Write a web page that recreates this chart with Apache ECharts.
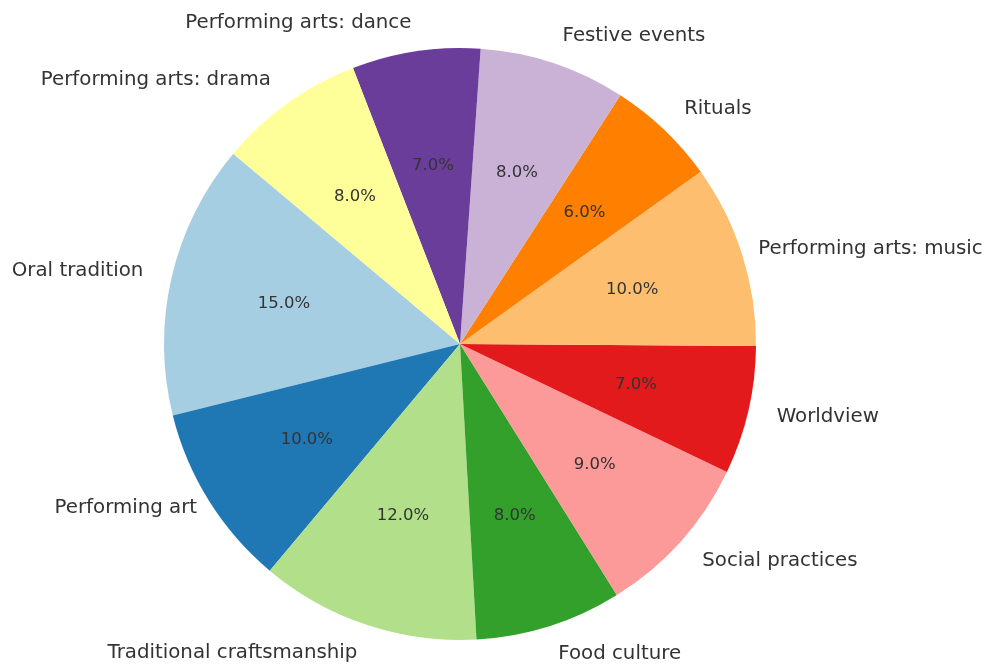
<!DOCTYPE html>
<html>
<head>
<meta charset="utf-8">
<script src="https://cdn.jsdelivr.net/npm/echarts@6/dist/echarts.min.js"></script>
<style>
  html, body { margin: 0; padding: 0; background: #ffffff; }
  #chart { width: 989px; height: 666px; }
</style>
</head>
<body>
<div id="chart"></div>
<script>
// Categories of intangible cultural heritage and their shares (%)
const categories = [
  'Oral tradition',
  'Performing art',
  'Traditional craftsmanship',
  'Food culture',
  'Social practices',
  'Worldview',
  'Performing arts: music',
  'Rituals',
  'Festive events',
  'Performing arts: dance',
  'Performing arts: drama'
];
const shares = [15, 10, 12, 8, 9, 7, 10, 6, 8, 7, 8];
// "Paired" palette
const colors = [
  '#a6cee3', '#1f78b4', '#b2df8a', '#33a02c', '#fb9a99', '#e31a1c',
  '#fdbf6f', '#ff7f00', '#cab2d6', '#6a3d9a', '#ffff99'
];

const CX = 460, CY = 344, R = 296;
const FONT = '"DejaVu Sans", sans-serif';
const NAME_GAP = 29;
// a couple of names sit a little closer to the rim
const nameGapOverride = { 'Performing arts: music': 17, 'Performing art': 14 };

const sliceData = categories.map((name, i) => {
  const item = { name: name, value: shares[i], itemStyle: { color: colors[i] } };
  if (nameGapOverride[name] !== undefined) {
    item.labelLine = { show: false, length: nameGapOverride[name], length2: 0 };
  }
  return item;
});
const pctData = categories.map((name, i) => ({
  name: name,
  value: shares[i],
  itemStyle: { color: 'rgba(0,0,0,0)' }
}));

const chart = echarts.init(document.getElementById('chart'), null, { renderer: 'canvas' });
chart.setOption({
  backgroundColor: '#ffffff',
  animation: false,
  series: [
    {
      // coloured slices with category names outside
      type: 'pie',
      center: [CX, CY],
      radius: [0, R],
      startAngle: 140,
      clockwise: false,
      avoidLabelOverlap: false,
      silent: true,
      itemStyle: { borderWidth: 0 },
      label: {
        show: true,
        position: 'outside',
        formatter: '{b}',
        color: '#333333',
        fontFamily: FONT,
        fontSize: 19.8,
        distanceToLabelLine: 0
      },
      labelLine: { show: false, length: NAME_GAP, length2: 0 },
      emphasis: { disabled: true },
      data: sliceData
    },
    {
      // percentage labels at 60% of the radius
      type: 'pie',
      center: [CX, CY],
      radius: [0, R * 1.2],
      startAngle: 140,
      clockwise: false,
      silent: true,
      avoidLabelOverlap: false,
      itemStyle: { borderWidth: 0 },
      label: {
        show: true,
        position: 'inside',
        formatter: p => p.value.toFixed(1) + '%',
        color: '#333333',
        fontFamily: FONT,
        fontSize: 16.5
      },
      labelLine: { show: false },
      emphasis: { disabled: true },
      data: pctData
    }
  ]
});
</script>
</body>
</html>
